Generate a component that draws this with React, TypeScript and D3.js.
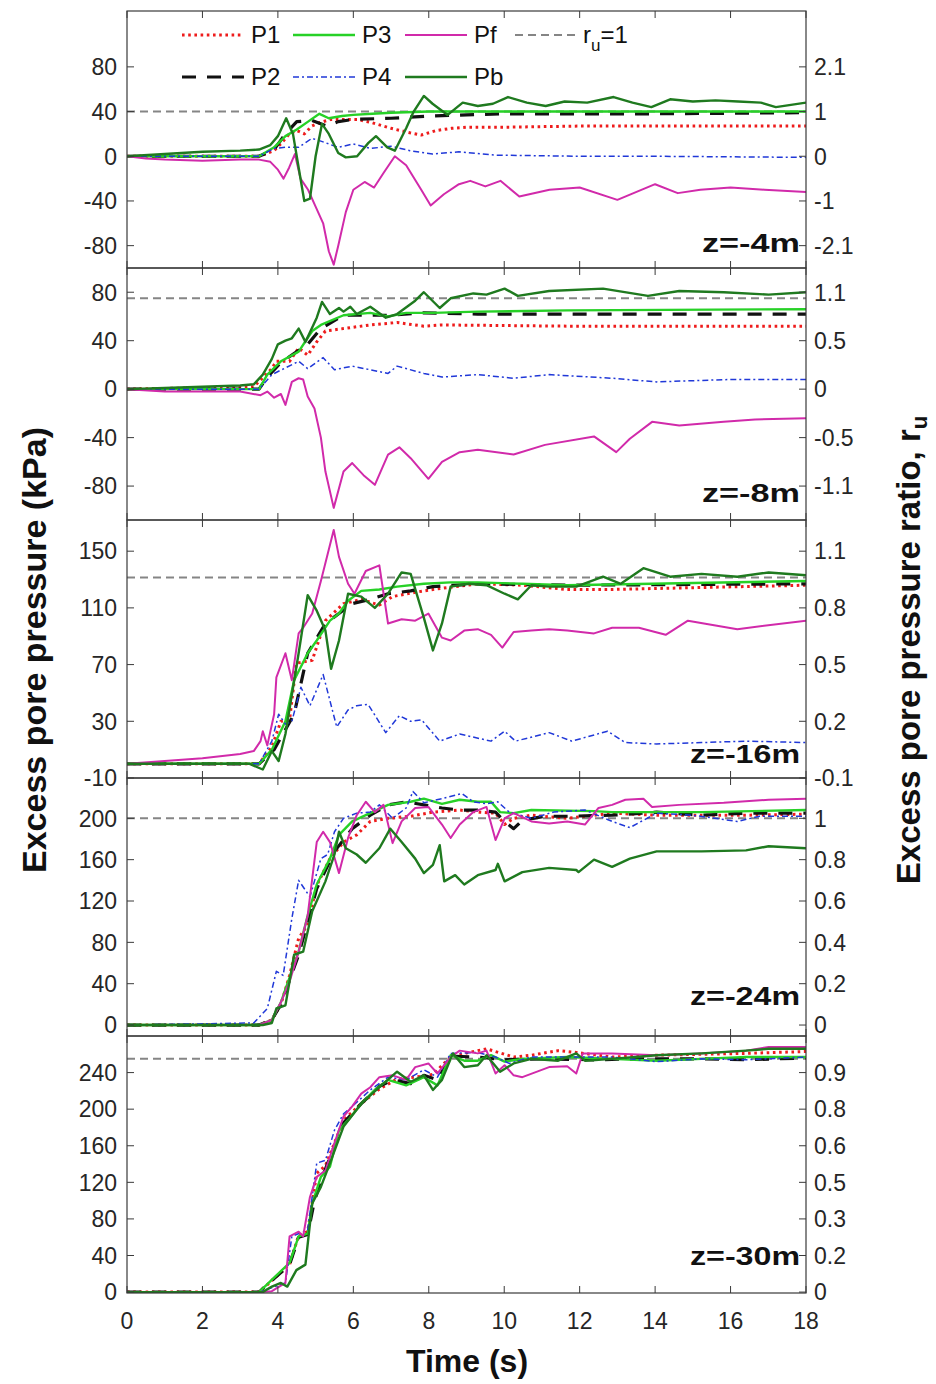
import React from 'react';
import * as d3 from 'd3';

type Pt = [number, number];

// ---------- data ----------
const TIME_TICKS = [0, 2, 4, 6, 8, 10, 12, 14, 16, 18];
const SERIES_KEYS = ['P1', 'P2', 'P3', 'P4', 'Pf', 'Pb'];
const DEPTH_LABELS = ['z=-4m', 'z=-8m', 'z=-16m', 'z=-24m', 'z=-30m'];
const LEFT_TICKS = [
  [80, 40, 0, -40, -80],
  [80, 40, 0, -40, -80],
  [150, 110, 70, 30, -10],
  [200, 160, 120, 80, 40, 0],
  [240, 200, 160, 120, 80, 40, 0],
];
const RIGHT_TICK_LABELS = [
  ['2.1', '1', '0', '-1', '-2.1'],
  ['1.1', '0.5', '0', '-0.5', '-1.1'],
  ['1.1', '0.8', '0.5', '0.2', '-0.1'],
  ['1', '0.8', '0.6', '0.4', '0.2', '0'],
  ['0.9', '0.8', '0.6', '0.5', '0.3', '0.2', '0'],
];
const RU_ONE = [40, 75, 131.5, 200, 255];
const Y_DOMAINS: Pt[] = [[-100, 130], [-108, 100], [-10, 172], [-10.6, 239], [-1, 280]];

// z = -4 m
const Z4_P1: Pt[] = [[0,0],[3.5,0],[3.9,5],[4.1,12],[4.3,20],[4.5,23],[4.7,20],[4.9,27],[5.1,30],[5.4,33],[5.7,33],[6.1,33],[6.5,30],[7.0,25],[7.5,21],[7.8,19],[8.2,23],[8.6,25],[9,26],[10,26],[12,27],[14,27],[16,27],[18,27]];
const Z4_P2: Pt[] = [[0,0],[3.5,0],[3.9,6],[4.2,20],[4.5,31],[4.9,32],[5.3,27],[5.6,31],[6,33],[7,34],[8,36],[9,37],[10,38],[14,38],[18,39]];
const Z4_P3: Pt[] = [[0,0],[3.5,0],[3.9,8],[4.2,18],[4.5,24],[4.8,31],[5.1,38],[5.35,34],[5.7,36],[6.0,37],[6.5,38],[7,39],[8,40],[18,40]];
const Z4_P4: Pt[] = [[0,0],[3.5,0],[3.9,7],[4.2,8],[4.55,8],[4.9,16],[5.1,14],[5.6,8],[6.0,11],[6.45,7],[7.0,9],[7.5,5],[8.1,2],[8.8,4],[9.8,1],[12,0],[14,0],[18,-1]];
const Z4_Pf: Pt[] = [[0,0],[0.5,-2],[1,-3],[2,-4],[3,-3],[3.5,-3],[3.8,-5],[4.0,-12],[4.15,-20],[4.3,-10],[4.45,2],[4.6,-20],[4.8,-30],[5.0,-45],[5.2,-60],[5.35,-85],[5.48,-97],[5.6,-80],[5.8,-50],[6.0,-30],[6.3,-23],[6.55,-28],[6.8,-15],[7.1,0],[7.4,-8],[7.8,-30],[8.05,-44],[8.4,-34],[8.8,-25],[9.1,-22],[9.5,-27],[9.9,-22],[10.4,-36],[11.2,-30],[12.0,-28],[13.0,-39],[14.0,-25],[14.6,-33],[15.2,-30],[16,-28],[16.9,-30],[18,-32]];
const Z4_Pb: Pt[] = [[0,0],[1,2],[2,4],[3,5],[3.5,6],[3.8,10],[4.0,18],[4.22,34],[4.4,20],[4.55,-10],[4.7,-40],[4.85,-38],[5.0,0],[5.17,29],[5.35,20],[5.6,3],[5.8,-1],[6.1,0],[6.4,12],[6.6,18],[6.9,8],[7.1,5],[7.4,25],[7.6,40],[7.87,54],[8.1,47],[8.5,37],[8.9,48],[9.3,45],[9.7,47],[10.1,53],[10.6,48],[11.1,45],[11.6,49],[12.2,48],[12.9,53],[13.4,48],[13.9,44],[14.4,51],[15,49],[15.6,50],[16.2,49],[16.8,48],[17.2,44],[17.6,46],[18,48]];

// z = -8 m
const Z8_P1: Pt[] = [[0,0],[3.36,2],[3.84,17],[3.96,23],[4.31,23],[4.55,34],[4.79,28],[5.03,39],[5.26,48],[5.74,50],[6.45,53],[7.16,55],[7.87,52],[8.35,53],[11.67,52],[18,52]];
const Z8_P2: Pt[] = [[0,0],[3.5,0],[3.72,10],[4.08,22],[4.79,37],[5.14,50],[5.74,61],[6.92,61],[7.87,63],[9.3,62],[18,62]];
const Z8_P3: Pt[] = [[0,0],[3.5,0],[3.72,12],[4.08,23],[4.55,31],[4.91,48],[5.14,53],[5.74,61],[6.45,63],[6.92,60],[7.4,63],[8.11,63],[9.3,64],[11.67,65],[18,66]];
const Z8_P4: Pt[] = [[0,0],[3.5,0],[3.84,12],[4.55,23],[4.79,17],[5.2,26],[5.5,16],[5.97,19],[6.45,16],[6.92,13],[7.16,19],[7.87,13],[8.35,10],[9.3,12],[10.25,9],[11.19,12],[12.86,9],[14.04,6],[16,8],[18,8]];
const Z8_Pf: Pt[] = [[0,0],[1,-2],[2,-2],[3,-2],[3.54,-5],[3.72,-2],[3.9,-7],[4.08,-4],[4.2,-13],[4.37,6],[4.55,9],[4.67,8],[4.79,-6],[4.97,-16],[5.14,-40],[5.26,-68],[5.48,-98],[5.74,-68],[5.97,-61],[6.27,-71],[6.57,-79],[6.92,-54],[7.22,-48],[7.52,-57],[7.99,-74],[8.35,-60],[8.82,-52],[9.3,-50],[10.25,-54],[11.08,-46],[12.38,-39],[12.97,-52],[13.33,-41],[13.92,-27],[14.64,-30],[15.82,-27],[16.65,-25],[18,-24]];
const Z8_Pb: Pt[] = [[0,0],[1,1],[2,2],[3,3],[3.36,4],[3.6,12],[3.84,25],[4.0,37],[4.2,40],[4.37,42],[4.55,50],[4.73,39],[5.03,59],[5.17,72],[5.38,62],[5.62,67],[5.74,64],[5.92,68],[6.09,62],[6.45,68],[6.86,59],[7.16,62],[7.64,73],[7.87,80],[8.29,67],[8.58,75],[9.18,79],[9.53,78],[10.01,83],[10.36,77],[11.19,81],[12.62,83],[13.81,77],[14.64,81],[15.82,80],[17.01,78],[18,80]];

// z = -16 m
const Z16_P1: Pt[] = [[0,0],[3.5,0],[3.84,12],[4.08,30],[4.31,31],[4.49,71],[4.91,73],[5.26,101],[5.74,113],[6.21,116],[6.69,112],[7.04,118],[7.64,121],[8.11,123],[9.3,127],[10.48,126],[11.67,123],[12.86,123],[18,126]];
const Z16_P2: Pt[] = [[0,0],[3.5,0],[3.9,10],[4.43,35],[4.79,78],[5.26,99],[5.62,106],[5.97,113],[6.45,116],[6.92,120],[7.52,122],[8.11,125],[9.3,127],[11.67,126],[18,127]];
const Z16_P3: Pt[] = [[0,0],[3.5,0],[3.84,10],[4.2,30],[4.43,59],[4.79,78],[5.03,87],[5.38,101],[5.62,106],[5.86,115],[6.21,122],[6.69,123],[7.16,125],[7.87,127],[8.58,128],[9.3,128],[10.48,127],[11.67,126],[18,129]];
const Z16_P4: Pt[] = [[0,0],[3.5,0],[3.84,16],[4.02,35],[4.2,28],[4.37,30],[4.61,54],[4.85,41],[5.2,63],[5.56,26],[5.86,38],[6.09,41],[6.39,42],[6.86,22],[7.22,34],[7.52,30],[7.81,31],[8.29,16],[8.82,21],[9.65,16],[10.01,23],[10.3,16],[11.19,22],[11.79,16],[12.74,23],[13.21,15],[14.04,14],[15.23,15],[16.41,16],[18,15]];
const Z16_Pf: Pt[] = [[0,0],[1,2],[2,4],[3,7],[3.36,9],[3.54,16],[3.6,23],[3.72,13],[3.9,35],[3.96,61],[4.2,78],[4.37,59],[4.55,92],[4.67,96],[4.91,106],[5.14,129],[5.48,165],[5.62,146],[5.86,127],[6.03,120],[6.33,136],[6.69,140],[6.92,99],[7.28,102],[7.64,101],[7.99,106],[8.35,89],[8.58,87],[8.94,94],[9.3,95],[9.65,91],[9.95,82],[10.25,93],[10.72,94],[11.19,95],[11.67,94],[12.38,92],[12.86,96],[13.57,96],[14.28,91],[14.87,101],[16.18,95],[18,101]];
const Z16_Pb: Pt[] = [[0,0],[3.25,0],[3.6,-4],[3.84,9],[4.02,2],[4.2,21],[4.55,78],[4.79,119],[5.03,108],[5.26,94],[5.41,67],[5.62,87],[5.86,120],[6.21,118],[6.57,110],[6.92,120],[7.28,135],[7.52,134],[7.87,103],[8.11,80],[8.35,99],[8.58,125],[9.06,127],[9.53,126],[10.01,120],[10.36,116],[10.72,126],[11.19,125],[11.91,125],[12.62,132],[13.09,127],[13.69,138],[14.4,132],[15.23,134],[16.18,132],[17.01,135],[18,133]];

// z = -24 m
const Z24_P1: Pt[] = [[0,0],[3.5,0],[3.84,5],[4.08,20],[4.31,48],[4.55,84],[4.79,97],[5.03,135],[5.38,161],[5.74,177],[6.09,184],[6.45,197],[6.92,200],[7.52,202],[8.11,206],[8.82,208],[9.3,206],[9.77,205],[10.01,194],[10.25,200],[10.72,203],[11.67,200],[12.86,205],[14.04,203],[15.23,203],[16.41,203],[18,204]];
const Z24_P2: Pt[] = [[0,0],[3.5,0],[3.84,5],[4.08,20],[4.55,68],[5.03,132],[5.5,168],[5.97,190],[6.45,203],[6.92,213],[7.4,216],[7.87,213],[8.35,210],[8.82,208],[9.3,208],[9.77,206],[10.01,197],[10.25,190],[10.48,198],[11.08,202],[11.67,202],[12.86,203],[14.04,206],[15.23,203],[16.41,205],[18,205]];
const Z24_P3: Pt[] = [[0,0],[3.5,0],[3.84,5],[4.08,22],[4.55,71],[4.79,106],[5.03,136],[5.38,161],[5.62,184],[5.97,197],[6.33,203],[6.92,213],[7.52,216],[7.87,219],[8.35,214],[8.82,218],[9.3,216],[9.65,216],[9.89,206],[10.25,205],[10.72,208],[12.38,207],[12.86,206],[14.04,206],[15.23,206],[18,208]];
const Z24_P4: Pt[] = [[0,0],[3.36,2],[3.72,16],[3.96,52],[4.14,48],[4.37,103],[4.55,140],[4.85,124],[5.14,161],[5.32,165],[5.5,187],[5.74,200],[6.09,205],[6.45,206],[6.69,213],[7.04,200],[7.4,210],[7.58,226],[7.87,215],[8.35,219],[8.88,224],[9.18,216],[9.53,214],[9.83,216],[10.13,206],[10.72,200],[11.31,206],[12.14,208],[12.86,197],[13.33,191],[14.04,205],[14.99,203],[16.18,197],[16.77,202],[18,202]];
const Z24_Pf: Pt[] = [[0,0],[3.5,0],[3.84,5],[4.08,22],[4.31,42],[4.55,71],[4.79,106],[5.03,177],[5.2,187],[5.38,177],[5.62,147],[5.86,181],[6.09,203],[6.33,216],[6.57,206],[6.8,213],[7.04,176],[7.28,197],[7.64,210],[7.99,211],[8.35,194],[8.58,181],[8.82,194],[9.18,206],[9.53,211],[9.77,179],[10.01,200],[10.25,205],[10.72,197],[11.19,195],[11.67,197],[12.14,194],[12.5,210],[12.86,213],[13.21,218],[13.69,219],[13.92,211],[14.64,213],[15.82,215],[17.01,218],[18,219]];
const Z24_Pb: Pt[] = [[0,0],[3.6,0],[3.84,2],[3.96,16],[4.2,19],[4.43,68],[4.67,71],[4.91,110],[5.26,139],[5.5,165],[5.62,187],[5.8,171],[6.09,165],[6.33,157],[6.69,171],[6.98,190],[7.28,177],[7.64,161],[7.87,147],[8.11,155],[8.29,174],[8.41,139],[8.7,145],[8.94,136],[9.3,145],[9.77,150],[9.83,156],[10.01,139],[10.48,148],[11.19,152],[11.91,150],[11.97,148],[12.38,160],[12.86,153],[13.33,161],[14.04,168],[15.23,168],[16.41,169],[17.01,173],[18,171]];

// z = -30 m
const Z30_P1: Pt[] = [[0,0],[3.5,0],[4.31,30],[4.55,62],[4.79,66],[5.03,130],[5.26,138],[5.74,188],[6.21,206],[6.69,222],[7.16,233],[7.64,235],[8.11,238],[8.58,257],[9.06,262],[9.53,266],[10.25,257],[10.72,259],[11.43,264],[11.91,262],[12.86,257],[14.04,259],[15.23,260],[16.41,261],[18,263]];
const Z30_P2: Pt[] = [[0,0],[3.5,0],[4.31,30],[4.55,60],[4.79,63],[4.97,100],[5.2,128],[5.5,160],[5.74,185],[6.21,206],[6.69,225],[7.04,232],[7.52,228],[7.87,237],[8.23,232],[8.58,258],[9.3,257],[10.01,254],[11.08,255],[12.38,254],[13.57,255],[15.23,255],[16.41,254],[18,256]];
const Z30_P3: Pt[] = [[0,0],[3.5,0],[4.31,32],[4.55,61],[4.79,64],[4.91,97],[5.14,126],[5.38,137],[5.62,177],[5.86,188],[6.21,206],[6.57,221],[6.92,232],[7.4,226],[7.87,235],[8.23,226],[8.58,259],[8.94,253],[9.3,253],[9.65,259],[10.01,252],[10.48,255],[11.67,257],[12.86,255],[14.04,253],[15.23,255],[16.41,257],[18,257]];
const Z30_P4: Pt[] = [[0,0],[3.5,0],[4.2,10],[4.37,61],[4.79,68],[5.03,141],[5.26,144],[5.5,177],[5.74,195],[5.97,203],[6.45,221],[6.92,235],[7.4,232],[7.87,243],[8.23,235],[8.58,261],[9.3,262],[9.77,257],[10.13,250],[10.72,257],[11.67,257],[12.86,257],[14.04,252],[15.23,255],[16.41,254],[18,257]];
const Z30_Pf: Pt[] = [[0,0],[3.5,0],[3.84,1],[4.2,10],[4.31,61],[4.55,66],[4.67,61],[4.85,104],[5.03,126],[5.26,133],[5.5,163],[5.74,192],[5.97,203],[6.21,217],[6.45,224],[6.69,235],[7.04,237],[7.4,232],[7.64,246],[7.99,250],[8.23,239],[8.58,257],[8.82,264],[9.3,261],[9.53,264],[9.77,239],[10.01,248],[10.25,237],[10.48,235],[11.19,246],[11.67,247],[11.91,239],[12.08,261],[12.86,261],[14.04,259],[15.23,261],[16.41,264],[17.01,268],[18,268]];
const Z30_Pb: Pt[] = [[0,0],[3.6,0],[3.84,6],[4.08,10],[4.25,6],[4.49,24],[4.73,30],[4.91,97],[5.14,115],[5.38,141],[5.74,181],[6.21,206],[6.69,224],[7.16,241],[7.52,230],[7.87,237],[8.11,221],[8.35,232],[8.64,261],[8.94,246],[9.3,248],[9.53,259],[9.89,241],[10.25,250],[10.72,255],[11.43,253],[11.91,261],[12.14,253],[12.86,255],[14.04,259],[15.23,261],[16.41,264],[17.01,266],[18,266]];

const PANEL_DATA: Record<string, Pt[]>[] = [
  { P1: Z4_P1, P2: Z4_P2, P3: Z4_P3, P4: Z4_P4, Pf: Z4_Pf, Pb: Z4_Pb },
  { P1: Z8_P1, P2: Z8_P2, P3: Z8_P3, P4: Z8_P4, Pf: Z8_Pf, Pb: Z8_Pb },
  { P1: Z16_P1, P2: Z16_P2, P3: Z16_P3, P4: Z16_P4, Pf: Z16_Pf, Pb: Z16_Pb },
  { P1: Z24_P1, P2: Z24_P2, P3: Z24_P3, P4: Z24_P4, Pf: Z24_Pf, Pb: Z24_Pb },
  { P1: Z30_P1, P2: Z30_P2, P3: Z30_P3, P4: Z30_P4, Pf: Z30_Pf, Pb: Z30_Pb },
];

// ---------- styles / layout ----------
const STYLE: Record<string, { color: string; width: number; dash?: string }> = {
  P1: { color: '#ee1c1c', width: 3, dash: '2.6,3.6' },
  P2: { color: '#111111', width: 3.2, dash: '14,11' },
  P3: { color: '#27d127', width: 2.4 },
  P4: { color: '#2038d8', width: 1.5, dash: '6,3,2,3' },
  Pf: { color: '#d12aaa', width: 2 },
  Pb: { color: '#1f7a1f', width: 2.4 },
};
const RU_STYLE = { color: '#858585', width: 2, dash: '8,5' };

const X0 = 127;
const X1 = 806;
const PANEL_BOUNDS: Pt[] = [[11, 268], [268, 520], [520, 778], [778, 1036], [1036, 1293]];
const LABEL_BASELINE_OFFSET = [16, 18, 15, 31, 28];
const LABEL_WIDTH = [98, 98, 110, 110, 110];
const FONT = 'Liberation Sans, Arial, Helvetica, sans-serif';
const TICK = 7;
const AXIS_COLOR = '#3a3a3a';
const TEXT_COLOR = '#262626';

const LEGEND_ROWS = [
  [{ k: 'P1', label: 'P1' }, { k: 'P3', label: 'P3' }, { k: 'Pf', label: 'Pf' }, { k: 'ru', label: 'ru' }],
  [{ k: 'P2', label: 'P2' }, { k: 'P4', label: 'P4' }, { k: 'Pb', label: 'Pb' }],
];
const LEGEND_COL_X = [182, 293, 405, 515];
const LEGEND_LINE_LEN = 62;
const LEGEND_ROW_Y = [35, 77];

export default function App() {
  const x = d3.scaleLinear().domain([0, 18]).range([X0, X1]);

  return (
    <div style={{ position: 'absolute', left: 0, top: 0 }}>
      <svg width={936} height={1384} style={{ display: 'block', background: '#fff' }} fontFamily={FONT}>
        <defs>
          {PANEL_BOUNDS.map(([t, b], i) => (
            <clipPath id={`clip${i}`} key={i}>
              <rect x={X0} y={t} width={X1 - X0} height={b - t} />
            </clipPath>
          ))}
        </defs>
        {PANEL_BOUNDS.map(([top, bottom], i) => {
          const y = d3.scaleLinear().domain(Y_DOMAINS[i]).range([bottom, top]);
          const line = d3.line<Pt>().x((d) => x(d[0])).y((d) => y(d[1]));
          const data = PANEL_DATA[i];
          return (
            <g key={i}>
              <g clipPath={`url(#clip${i})`}>
                <line x1={X0} x2={X1} y1={y(RU_ONE[i])} y2={y(RU_ONE[i])} stroke={RU_STYLE.color}
                  strokeWidth={RU_STYLE.width} strokeDasharray={RU_STYLE.dash} />
                {SERIES_KEYS.map((k) => (
                  <path key={k} d={line(data[k]) || ''} fill="none" stroke={STYLE[k].color}
                    strokeWidth={STYLE[k].width} strokeDasharray={STYLE[k].dash}
                    strokeLinejoin="round" />
                ))}
              </g>
              <rect x={X0} y={top} width={X1 - X0} height={bottom - top} fill="none" stroke={AXIS_COLOR} strokeWidth={1.2} />
              {TIME_TICKS.map((t) => (
                <g key={t}>
                  <line x1={x(t)} x2={x(t)} y1={top} y2={top + TICK} stroke={AXIS_COLOR} strokeWidth={1} />
                  <line x1={x(t)} x2={x(t)} y1={bottom} y2={bottom - TICK} stroke={AXIS_COLOR} strokeWidth={1} />
                </g>
              ))}
              {LEFT_TICKS[i].map((v, j) => (
                <g key={v}>
                  <line x1={X0} x2={X0 + TICK} y1={y(v)} y2={y(v)} stroke={AXIS_COLOR} strokeWidth={1} />
                  <line x1={X1} x2={X1 - TICK} y1={y(v)} y2={y(v)} stroke={AXIS_COLOR} strokeWidth={1} />
                  <text x={X0 - 10} y={y(v)} dy="0.36em" textAnchor="end" fontSize={23} fill={TEXT_COLOR}>{v}</text>
                  <text x={X1 + 8} y={y(v)} dy="0.36em" textAnchor="start" fontSize={23} fill={TEXT_COLOR}>{RIGHT_TICK_LABELS[i][j]}</text>
                </g>
              ))}
              <text x={X1 - 6} y={bottom - LABEL_BASELINE_OFFSET[i]} textAnchor="end" fontSize={26} fontWeight="bold"
                fill="#111" textLength={LABEL_WIDTH[i]} lengthAdjust="spacingAndGlyphs">
                {DEPTH_LABELS[i]}
              </text>
            </g>
          );
        })}
        {TIME_TICKS.map((t) => (
          <text key={t} x={x(t)} y={1329} textAnchor="middle" fontSize={23} fill={TEXT_COLOR}>{t}</text>
        ))}
        {LEGEND_ROWS.map((row, r) =>
          row.map((it, c) => {
            const lx = LEGEND_COL_X[c];
            const ly = LEGEND_ROW_Y[r];
            const st = it.k === 'ru' ? RU_STYLE : STYLE[it.k];
            return (
              <g key={it.k}>
                <line x1={lx} x2={lx + LEGEND_LINE_LEN} y1={ly} y2={ly} stroke={st.color} strokeWidth={st.width}
                  strokeDasharray={st.dash} />
                {it.k === 'ru' ? (
                  <text x={lx + LEGEND_LINE_LEN + 6} y={ly + 8} fontSize={24} fill="#111">
                    r<tspan fontSize={17} dy={8}>u</tspan><tspan dy={-8}>=1</tspan>
                  </text>
                ) : (
                  <text x={lx + LEGEND_LINE_LEN + 7} y={ly + 8} fontSize={24} fill="#111">{it.label}</text>
                )}
              </g>
            );
          })
        )}
        <text transform="translate(46,650) rotate(-90)" textAnchor="middle" fontSize={34} fontWeight="bold" fill="#111">
          Excess pore pressure (kPa)
        </text>
        <text transform="translate(920,650) rotate(-90)" textAnchor="middle" fontSize={33} fontWeight="bold" fill="#111">
          Excess pore pressure ratio, r<tspan fontSize={22} dy={7}>u</tspan>
        </text>
        <text x={467} y={1372} textAnchor="middle" fontSize={32} fontWeight="bold" fill="#111">Time (s)</text>
      </svg>
    </div>
  );
}
